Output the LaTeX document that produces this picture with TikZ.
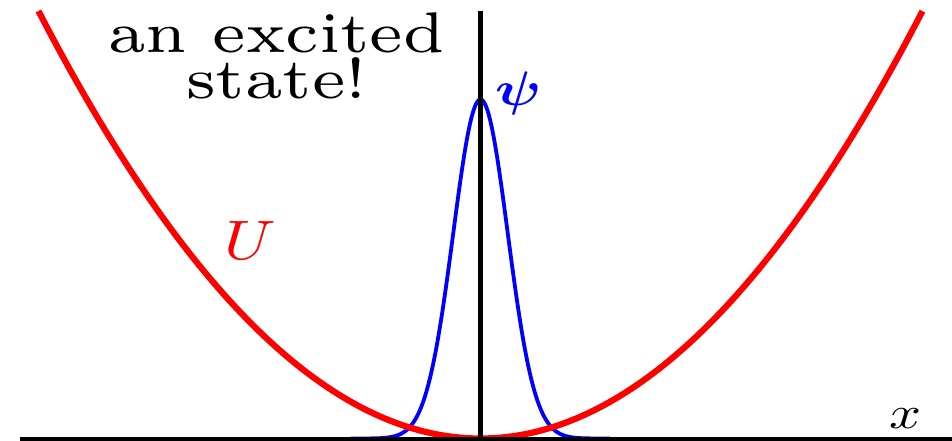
\documentclass[tikz,border=0pt]{standalone}
\usepackage{amsmath}
\begin{document}
\begin{tikzpicture}[x=1pt,y=-1pt,
  lbl/.style={inner sep=0pt, anchor=base},
  axisline/.style={black, line width=4.2pt},
  potential/.style={red, line width=6.2pt},
  wave/.style={blue, line width=3.8pt}]
\useasboundingbox (0,0) rectangle (952,441);
% wavefunction
\draw[wave] plot[domain=-1.3:1.3, samples=240, smooth]
  ({480.5+100*\x}, {438.5-339*exp(-\x*\x/(2*0.272*0.272))});
% potential
\draw[potential] plot[domain=-4.42:4.42, samples=200, smooth]
  ({480.5+100*\x}, {438.5-427.5*(\x/4.42)*(\x/4.42)});
% axes
\coordinate (xs) at (20,438.8);
\coordinate (xe) at (952,438.8);
\coordinate (ys) at (480.5,438.8);
\coordinate (ye) at (480.5,11);
\draw[axisline] (xs) -- (xe);
\draw[axisline] (ys) -- (ye);
% labels
\node[lbl, font=\fontsize{7}{5.62}\selectfont, align=center, xscale=9.4, yscale=8.19] (title) at (276.5,98.3) {an excited\\state!};
\node[lbl, font=\fontsize{10}{12}\selectfont, xscale=6.52, yscale=5.56, red] (U) at (250,259) {$U$};
\node[lbl, font=\fontsize{10}{12}\selectfont, xscale=5.8, yscale=4.84, blue] (psi) at (519,105.6) {$\boldsymbol{\psi}$};
\node[lbl, font=\fontsize{10}{12}\selectfont, xscale=5.6, yscale=4.6, black] (xl) at (905,428) {$x$};
\end{tikzpicture}
\end{document}
